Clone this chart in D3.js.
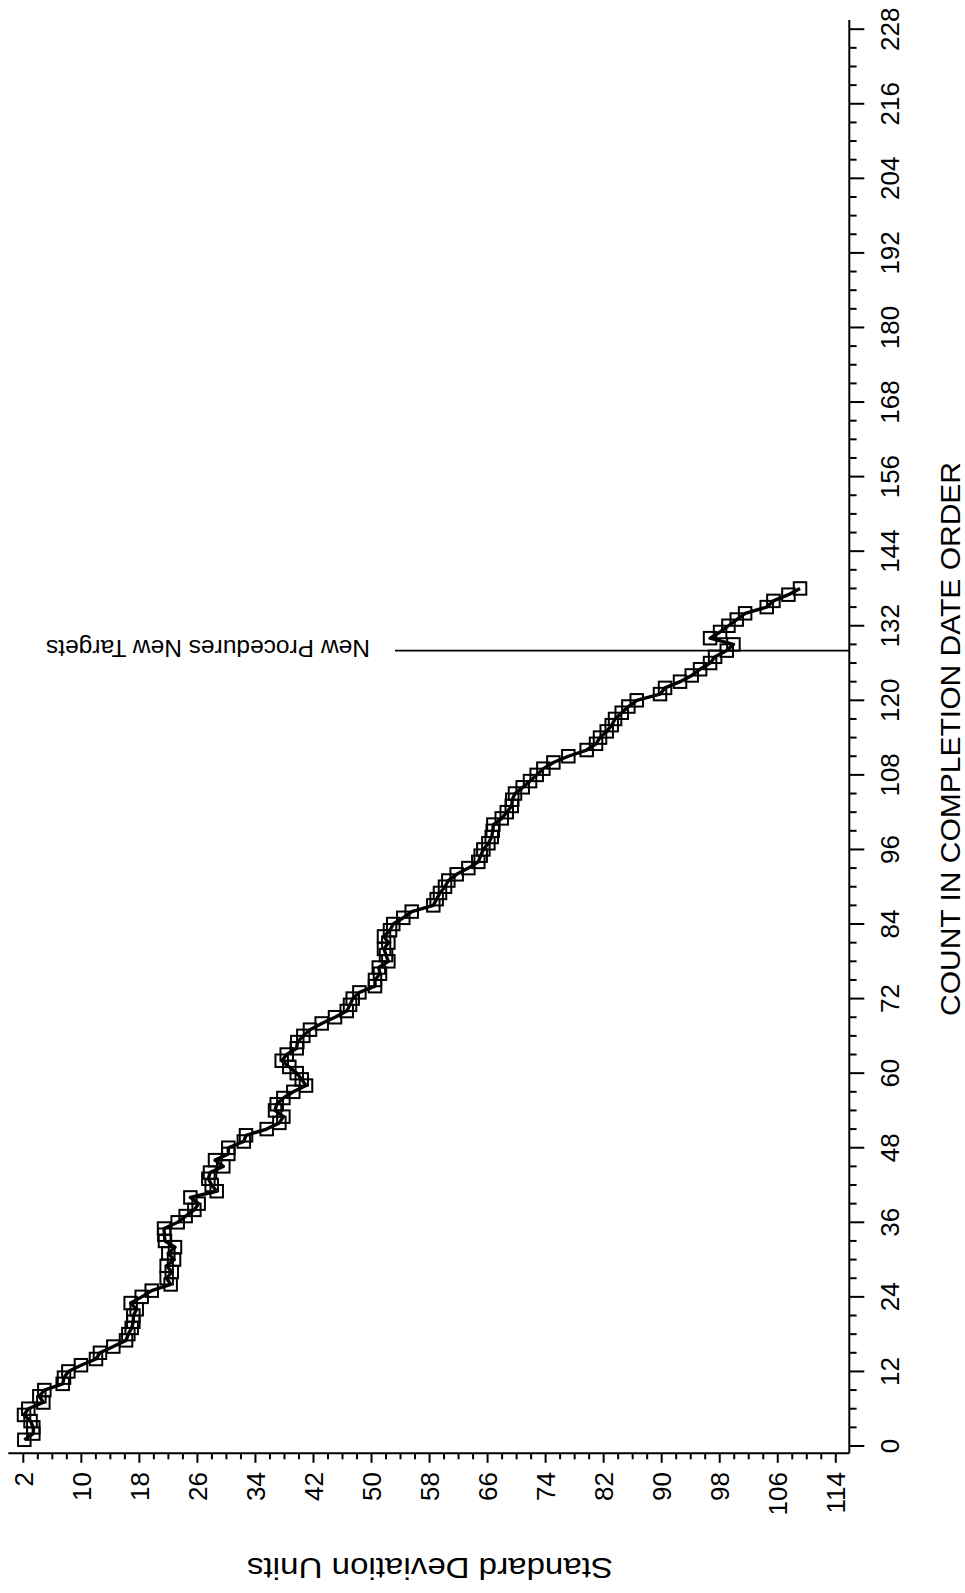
<!DOCTYPE html>
<html><head><meta charset="utf-8">
<script src="https://cdn.jsdelivr.net/npm/d3@7"></script>
<style>html,body{margin:0;padding:0;background:#fff;}svg{display:block;}</style>
</head><body>
<script>
// Standard deviation units for each count in completion date order (count = index + 1)
const sdValues = [
 2.14,3.38,3.38,3.0,2.10,2.69,4.76,4.21,4.90,7.43,
 7.61,8.21,9.95,12.02,12.57,14.41,16.16,16.48,16.94,17.17,
 17.17,17.63,16.80,18.32,19.70,22.31,21.76,22.46,21.76,22.78,
 21.99,22.91,21.53,21.44,21.40,23.28,24.38,25.58,26.17,25.03,
 28.66,27.97,27.51,27.74,29.57,28.43,30.26,30.26,32.4,32.7,
 35.55,37.3,37.85,36.70,36.93,37.85,39.22,40.97,40.38,39.69,
 38.67,37.62,38.31,39.69,39.77,40.60,41.52,43.13,44.97,46.58,
 47.04,47.41,48.33,50.48,50.48,51.17,51.0,52.32,52.0,51.72,
 52.32,51.72,52.55,53.0,54.38,55.54,58.52,58.98,59.44,60.13,
 60.59,61.74,63.35,64.72,65.05,65.42,66.11,66.57,66.71,66.80,
 67.95,68.64,69.33,69.4,69.78,70.84,71.85,72.77,73.69,75.07,
 77.13,79.66,80.95,81.5,82.42,83.11,83.57,84.49,85.41,86.56,
 89.77,90.46,92.53,94.14,95.29,96.67,97.36,98.97,99.89,96.67,
 98.05,99.20,100.35,101.50,104.48,105.40,107.47,109.07
];
const countTicks = [0,12,24,36,48,60,72,84,96,108,120,132,144,156,168,180,192,204,216,228];
const sdTicks = [2,10,18,26,34,42,50,58,66,74,82,90,98,106,114];
const annotationCount = [128];
const annotationText = ["New Procedures New Targets"];
const countTitle = "COUNT IN COMPLETION DATE ORDER";
const sdTitle = "Standard Deviation Units";

const W = 965, H = 1593;
const svg = d3.select("body").append("svg").attr("width", W).attr("height", H);
svg.append("rect").attr("width", W).attr("height", H).attr("fill", "#fff");

const font = "'Liberation Sans', Arial, sans-serif";
// rotated layout: count runs vertically (right axis), SD units horizontally (bottom axis)
const yC = d3.scaleLinear().domain([0, 228]).range([1446, 29.2]);
const xS = d3.scaleLinear().domain([0, 116]).range([8.8, 850.3]);
const axisX = 849.3, axisY = 1453.3;

// right axis (count)
const gR = svg.append("g");
gR.append("line").attr("x1", axisX).attr("x2", axisX).attr("y1", axisY).attr("y2", 20)
  .attr("stroke", "#000").attr("stroke-width", 2);
const minorC = d3.range(0, 229, 3).filter(v => v % 12 !== 0);
gR.selectAll("line.mn").data(minorC).join("line")
  .attr("x1", axisX).attr("x2", axisX + 7.3).attr("y1", d => yC(d)).attr("y2", d => yC(d))
  .attr("stroke", "#000").attr("stroke-width", 2);
gR.selectAll("line.mj").data(countTicks).join("line")
  .attr("x1", axisX).attr("x2", axisX + 15).attr("y1", d => yC(d)).attr("y2", d => yC(d))
  .attr("stroke", "#000").attr("stroke-width", 2);
const fT = 26;
gR.selectAll("text").data(countTicks).join("text")
  .attr("transform", d => `translate(890,${yC(d)}) rotate(-90)`)
  .attr("y", 0.358 * fT).attr("text-anchor", "middle")
  .attr("font-family", font).attr("font-size", fT).text(d => d);

// bottom axis (SD units)
const gB = svg.append("g");
gB.append("line").attr("x1", 8.3).attr("x2", axisX).attr("y1", axisY).attr("y2", axisY)
  .attr("stroke", "#000").attr("stroke-width", 2);
const minorS = d3.range(4, 113, 2).filter(v => (v - 2) % 8 !== 0);
gB.selectAll("line.mn").data(minorS).join("line")
  .attr("x1", d => xS(d)).attr("x2", d => xS(d)).attr("y1", axisY).attr("y2", axisY + 6)
  .attr("stroke", "#000").attr("stroke-width", 2);
gB.selectAll("line.mj").data(sdTicks).join("line")
  .attr("x1", d => xS(d)).attr("x2", d => xS(d)).attr("y1", axisY).attr("y2", axisY + 9.5)
  .attr("stroke", "#000").attr("stroke-width", 2);
gB.selectAll("text").data(sdTicks).join("text")
  .attr("transform", d => `translate(${xS(d)},1472) rotate(-90)`)
  .attr("y", 0.358 * fT).attr("text-anchor", "end")
  .attr("font-family", font).attr("font-size", fT).text(d => d);

// titles
svg.append("text").attr("transform", "translate(950,739) rotate(-90)")
  .attr("y", 0.358 * 28).attr("text-anchor", "middle")
  .attr("font-family", font).attr("font-size", 28)
  .attr("textLength", 554).attr("lengthAdjust", "spacingAndGlyphs").text(countTitle);
svg.append("text").attr("transform", "translate(430,1569) rotate(180)")
  .attr("y", 0.358 * 30).attr("text-anchor", "middle")
  .attr("font-family", font).attr("font-size", 30)
  .attr("textLength", 366).attr("lengthAdjust", "spacingAndGlyphs").text(sdTitle);

// annotation
svg.selectAll("line.ann").data(annotationCount).join("line")
  .attr("x1", 395).attr("x2", axisX).attr("y1", d => yC(d)).attr("y2", d => yC(d))
  .attr("stroke", "#000").attr("stroke-width", 1.6);
svg.selectAll("text.ann").data(annotationCount).join("text")
  .attr("transform", d => `translate(370,${yC(d) - 2}) rotate(180)`)
  .attr("y", 0.358 * 24).attr("text-anchor", "start")
  .attr("font-family", font).attr("font-size", 24)
  .attr("textLength", 324).attr("lengthAdjust", "spacingAndGlyphs")
  .text((d, i) => annotationText[i]);

// data
const pts = sdValues.map((v, i) => ({c: i + 1, v}));
svg.append("path").datum(pts)
  .attr("d", d3.line().x(d => xS(d.v)).y(d => yC(d.c)))
  .attr("fill", "none").attr("stroke", "#000").attr("stroke-width", 3.4).attr("stroke-linejoin", "round");
const sq = 12.5;
svg.selectAll("rect.pt").data(pts).join("rect")
  .attr("x", d => xS(d.v) - sq / 2).attr("y", d => yC(d.c) - sq / 2)
  .attr("width", sq).attr("height", sq)
  .attr("fill", "none").attr("stroke", "#000").attr("stroke-width", 2);
</script>
</body></html>
